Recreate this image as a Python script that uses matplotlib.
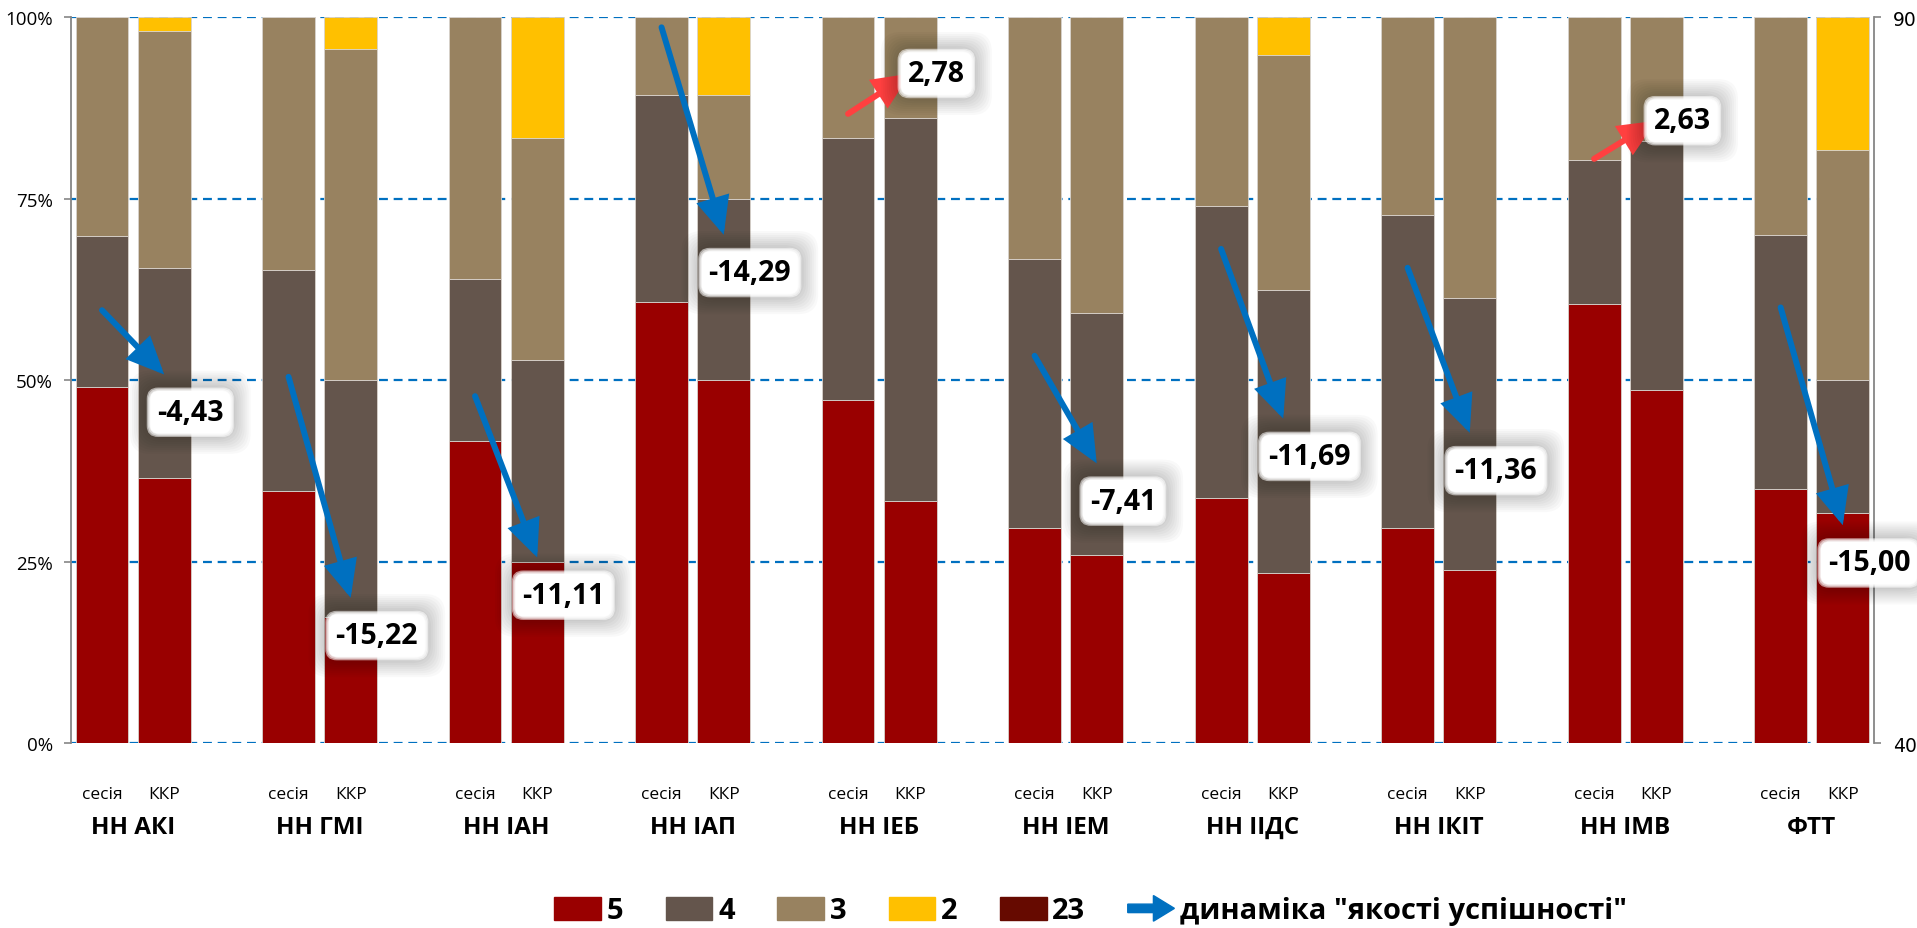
import numpy as np
import matplotlib
matplotlib.use('Agg')
import matplotlib.pyplot as plt
import matplotlib.patches as mpatches
from matplotlib.legend_handler import HandlerPatch
from matplotlib.ticker import FuncFormatter

# ── data ──────────────────────────────────────────────────────────────────────

groups = ['НН АКІ', 'НН ГМІ', 'НН ІАН', 'НН ІАП', 'НН ІЕБ',
          'НН ІЕМ', 'НН ІІДС', 'НН ІКІТ', 'НН ІМВ', 'ФТТ']
periods = ['сесія', 'ККР']

# share of grades, %  (session)
sess_5 = [49.06, 34.78, 41.67, 60.71, 47.22, 29.63, 33.77, 29.55, 60.47, 35.00]
sess_4 = [20.75, 30.43, 22.22, 28.57, 36.11, 37.04, 40.26, 43.18, 19.77, 35.00]
sess_3 = [30.19, 34.78, 36.11, 10.71, 16.67, 33.33, 25.97, 27.27, 19.77, 30.00]
sess_2 = [0.00, 0.00, 0.00, 0.00, 0.00, 0.00, 0.00, 0.00, 0.00, 0.00]

# share of grades, %  (ККР)
kkr_5 = [36.54, 17.39, 25.00, 50.00, 33.33, 25.93, 23.38, 23.86, 48.57, 31.67]
kkr_4 = [28.85, 32.61, 27.78, 25.00, 52.78, 33.33, 38.96, 37.50, 34.29, 18.33]
kkr_3 = [32.69, 45.65, 30.56, 14.29, 13.89, 40.74, 32.47, 38.64, 17.14, 31.67]
kkr_2 = [1.92, 4.35, 16.67, 10.71, 0.00, 0.00, 5.19, 0.00, 0.00, 18.33]

# "якість успішності" on the right axis, and its change
quality_sess = [69.81, 65.22, 63.89, 89.29, 83.33, 66.67, 74.03, 72.73, 80.23, 70.00]
quality_kkr = [65.38, 50.00, 52.78, 75.00, 86.11, 59.26, 62.34, 61.36, 82.86, 55.00]
quality_delta = [-4.43, -15.22, -11.11, -14.29, 2.78, -7.41, -11.69, -11.36, 2.63, -15.00]

grade_names = ['5', '4', '3', '2', '23']
grade_colors = ['#990000', '#64554C', '#988260', '#FFC000', '#660A00']
arrow_down = '#0070C0'
arrow_up = '#FF4040'

plt.rcParams['font.family'] = ['Open Sans', 'DejaVu Sans']


# ── helpers ───────────────────────────────────────────────────────────────────

def arrow_handle(legend, orig_handle, xdescent, ydescent, width, height, fontsize):
    return mpatches.FancyArrow(-xdescent, height / 2 - ydescent, width, 0,
                               width=height * 0.38, head_width=height * 1.15,
                               head_length=width * 0.45,
                               length_includes_head=True,
                               color=arrow_down)


def glow_label(ax, x, y, s):
    # soft grey halo behind a white box
    for k in range(9):
        pad = 0.95 - k * 0.07
        ax.text(x, y, s, fontsize=20.5, fontweight='bold', color='none',
                ha='center', va='center', zorder=5,
                bbox=dict(boxstyle=f'round,pad={pad:.2f},rounding_size=0.7',
                          fc='black', ec='none', alpha=0.022))
    for k in range(3):
        pad = 0.36 - k * 0.04
        ax.text(x, y, s, fontsize=20.5, fontweight='bold', color='none',
                ha='center', va='center', zorder=5.5,
                bbox=dict(boxstyle=f'round,pad={pad:.2f},rounding_size=0.4',
                          fc='white', ec='none', alpha=0.55))
    ax.text(x, y, s, fontsize=20.5, fontweight='bold', color='black',
            ha='center', va='center', zorder=6,
            bbox=dict(boxstyle='round,pad=0.24,rounding_size=0.3',
                      fc='white', ec='none'))


# ── figure ────────────────────────────────────────────────────────────────────

fig = plt.figure(figsize=(19.17, 9.29), dpi=100)
ax = fig.add_axes([0.0370, 0.1991, 0.9405, 0.7815])

n = len(groups)
x_sess = np.arange(n) * 3
x_kkr = np.arange(n) * 3 + 1

series_sess = [sess_5, sess_4, sess_3, sess_2]
series_kkr = [kkr_5, kkr_4, kkr_3, kkr_2]

bottom_s = np.zeros(n)
bottom_k = np.zeros(n)
for vals_s, vals_k, c in zip(series_sess, series_kkr, grade_colors):
    ax.bar(x_sess, vals_s, 0.85, bottom=bottom_s, color=c,
           edgecolor='#d8d2cc', linewidth=0.6)
    ax.bar(x_kkr, vals_k, 0.85, bottom=bottom_k, color=c,
           edgecolor='#d8d2cc', linewidth=0.6)
    bottom_s += np.array(vals_s)
    bottom_k += np.array(vals_k)

ax.set_xlim(-0.5, 3 * n - 1.5)
ax.set_ylim(0, 100)
ax.set_yticks([0, 25, 50, 75, 100])
ax.yaxis.set_major_formatter(FuncFormatter(lambda v, p: f'{v:.0f}%'))
ax.set_xticks([])
ax.set_axisbelow(True)
ax.yaxis.grid(True, color='#0070C0', linestyle=(0, (4, 2.6)), linewidth=1.6)
ax.tick_params(axis='y', length=5, width=1.2, color='#868686',
               labelsize=13.5, pad=8)
for side in ['top', 'right', 'bottom']:
    ax.spines[side].set_visible(False)
ax.spines['left'].set_color('#868686')
ax.spines['left'].set_linewidth(1.3)

# category labels
tr = ax.get_xaxis_transform()
for i in range(n):
    ax.text(x_sess[i], -0.070, periods[0], transform=tr, ha='center',
            va='center', fontsize=12.5)
    ax.text(x_kkr[i], -0.070, periods[1], transform=tr, ha='center',
            va='center', fontsize=12.5)
    ax.text((x_sess[i] + x_kkr[i]) / 2, -0.116, groups[i], transform=tr,
            ha='center', va='center', fontsize=17.5, fontweight='bold')

# right axis: quality dynamics
ax2 = ax.twinx()
ax2.set_ylim(40, 90)
ax2.set_yticks([40, 90])
ax2.tick_params(axis='y', length=5, width=1.2, color='#868686',
                labelsize=13.5, pad=9, labelfontfamily='DejaVu Sans')
for side in ['top', 'left', 'bottom']:
    ax2.spines[side].set_visible(False)
ax2.spines['right'].set_color('#868686')
ax2.spines['right'].set_linewidth(1.3)

for i in range(n):
    c = arrow_up if quality_delta[i] > 0 else arrow_down
    ax2.annotate('', xy=(x_kkr[i], quality_kkr[i]),
                 xytext=(x_sess[i], quality_sess[i]),
                 arrowprops=dict(arrowstyle='-|>,head_length=1.0,head_width=0.45',
                                 mutation_scale=20, lw=4.3, color=c,
                                 shrinkA=0, shrinkB=0, capstyle='round',
                                 joinstyle='miter'),
                 zorder=4)
    dy = -2.6 if quality_delta[i] < 0 else 0.0
    label = f'{quality_delta[i]:.2f}'.replace('.', ',')
    glow_label(ax2, x_kkr[i] + 0.42, quality_kkr[i] + dy, label)

# legend
handles = [mpatches.Patch(color=c, label=l)
           for c, l in zip(grade_colors, grade_names)]
arrow_h = mpatches.Patch(color=arrow_down, label='динаміка "якості успішності"')
handles.append(arrow_h)
fig.legend(handles=handles, loc='center', bbox_to_anchor=(0.569, 0.0183),
           ncol=6, frameon=False, handlelength=1.6, handleheight=0.8,
           handletextpad=0.2, columnspacing=1.45,
           prop={'size': 21, 'weight': 'bold'},
           handler_map={arrow_h: HandlerPatch(patch_func=arrow_handle)})

fig.savefig('out.png', dpi=100, facecolor='white')
